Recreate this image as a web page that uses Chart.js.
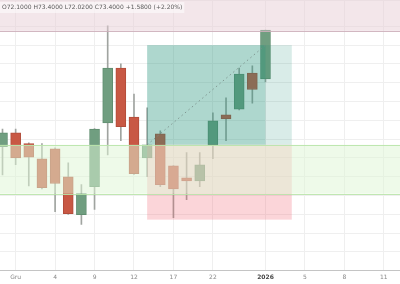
<!DOCTYPE html>
<html>
<head>
<meta charset="utf-8">
<script src="https://cdn.jsdelivr.net/npm/chart.js@4.4.1/dist/chart.umd.min.js"></script>
<style>
  html, body { margin: 0; padding: 0; background: #fff; }
  #wrap { width: 400px; height: 284px; position: relative; }
</style>
</head>
<body>
<div id="wrap"><canvas id="chartCandle"></canvas></div>
<script>
// bar slots (one per session) and OHLC values
const slots  = [0, 1, 2, 3, 4, 5, 6, 7, 8, 9, 10, 11, 12, 13, 14, 15, 16, 17, 18, 19, 20];
const opens  = [70.30, 70.67, 70.38, 69.98, 70.24, 69.50, 68.49, 69.24, 70.93, 72.39, 71.09, 70.00, 70.64, 69.79, 69.47, 69.39, 70.35, 71.15, 71.30, 72.26, 72.10];
const highs  = [70.77, 70.77, 70.40, 70.38, 70.27, 69.87, 69.29, 70.78, 73.51, 72.50, 71.70, 71.33, 70.72, 69.80, 70.14, 70.14, 71.20, 71.60, 72.39, 72.45, 73.40];
const lows   = [69.55, 69.82, 69.26, 69.18, 68.57, 68.50, 68.23, 68.63, 70.08, 70.46, 69.56, 69.50, 69.24, 68.41, 68.89, 69.24, 69.98, 70.46, 71.28, 71.46, 72.02];
const closes = [70.67, 70.00, 70.02, 69.21, 69.32, 68.52, 69.05, 70.77, 72.39, 70.83, 69.58, 70.35, 69.29, 69.18, 69.39, 69.82, 70.99, 71.04, 72.23, 71.82, 73.40];

// time axis
const tickSlots  = [1, 4, 7, 10, 13, 16, 20, 23, 26, 29];
const tickLabels = ['Gru', '4', '9', '12', '17', '22', '2026', '5', '8', '11'];

// drawings
const resistanceZone = [73.38, 74.2];
const supportZone    = [69.05, 70.35];
const longLevels     = [68.36, 70.35, 73.0];   // stop, entry, target
const longSlots      = [11, 20, 22];           // start, hit, end

const up = slots.map(i => closes[i] >= opens[i]);
const bodyFill = up.map(u => u ? 'rgb(112,158,128)' : 'rgb(200,88,68)');
const bodyLine = up.map(u => u ? 'rgb(96,142,112)' : 'rgb(178,76,58)');

const last = slots.length - 1;
const chg = closes[last] - closes[last - 1];
const ohlcText = 'O' + opens[last].toFixed(4) + ' H' + highs[last].toFixed(4) +
    ' L' + lows[last].toFixed(4) + ' C' + closes[last].toFixed(4) +
    ' +' + chg.toFixed(4) + ' (+' + (chg / closes[last - 1] * 100).toFixed(2) + '%)';

// overlays drawn on top of the candles, like the chart tool does
const drawings = {
    id: 'drawings',
    afterDatasetsDraw(chart) {
        const {ctx, chartArea: a, scales: {x, y}} = chart;
        ctx.save();
        ctx.beginPath();
        ctx.rect(a.left, a.top, a.right - a.left, a.bottom - a.top);
        ctx.clip();

        const xs = longSlots.map(v => x.getPixelForValue(v));
        const yStop = y.getPixelForValue(longLevels[0]);
        const yEntry = y.getPixelForValue(longLevels[1]);
        const yTarget = y.getPixelForValue(longLevels[2]);

        // stop zone
        ctx.fillStyle = 'rgba(238,80,98,0.24)';
        ctx.fillRect(xs[0], yEntry, xs[2] - xs[0], yStop - yEntry);
        // profit zone
        ctx.fillStyle = 'rgba(30,145,120,0.36)';
        ctx.fillRect(xs[0], yTarget, xs[1] - xs[0], yEntry - yTarget);
        ctx.fillStyle = 'rgba(30,145,120,0.17)';
        ctx.fillRect(xs[1], yTarget, xs[2] - xs[1], yEntry - yTarget);

        // support band
        const s0 = y.getPixelForValue(supportZone[1]);
        const s1 = y.getPixelForValue(supportZone[0]);
        ctx.fillStyle = 'rgba(222,245,212,0.52)';
        ctx.fillRect(a.left, s0, a.right - a.left, s1 - s0);
        ctx.strokeStyle = 'rgba(185,228,170,0.9)';
        ctx.lineWidth = 1;
        ctx.beginPath();
        ctx.moveTo(a.left, Math.round(s0) + 0.5); ctx.lineTo(a.right, Math.round(s0) + 0.5);
        ctx.moveTo(a.left, Math.round(s1) + 0.5); ctx.lineTo(a.right, Math.round(s1) + 0.5);
        ctx.stroke();

        // resistance band
        const r0 = y.getPixelForValue(resistanceZone[1]);
        const r1 = y.getPixelForValue(resistanceZone[0]);
        ctx.fillStyle = 'rgba(232,205,214,0.5)';
        ctx.fillRect(a.left, r0, a.right - a.left, r1 - r0);
        ctx.strokeStyle = 'rgba(205,175,186,0.9)';
        ctx.beginPath();
        ctx.moveTo(a.left, Math.round(r1) + 0.5); ctx.lineTo(a.right, Math.round(r1) + 0.5);
        ctx.stroke();

        // dotted entry -> target line
        ctx.strokeStyle = 'rgba(120,140,135,0.85)';
        ctx.setLineDash([1.5, 3]);
        ctx.beginPath();
        ctx.moveTo(xs[0], yEntry);
        ctx.lineTo(xs[1], yTarget);
        ctx.stroke();
        ctx.setLineDash([]);

        // OHLC legend
        ctx.font = '6px "DejaVu Sans"';
        const w = ctx.measureText(ohlcText).width;
        ctx.fillStyle = 'rgba(255,255,255,0.55)';
        ctx.fillRect(a.left, a.top + 2, w + 4, 11);
        ctx.fillStyle = '#5a5a5a';
        ctx.textBaseline = 'middle';
        ctx.fillText(ohlcText, a.left + 2, a.top + 7.5);
        ctx.restore();
    }
};

const cvs = document.getElementById('chartCandle');
const chartCandle = new Chart(cvs, {
    type: 'bar',
    data: {
        datasets: [{
            label: 'wick',
            data: slots.map(i => ({x: i, y: [lows[i], highs[i]]})),
            backgroundColor: 'rgb(160,164,160)',
            barThickness: 1,
            grouped: false,
            order: 2
        }, {
            label: 'body',
            data: slots.map(i => ({x: i, y: [opens[i], closes[i]]})),
            backgroundColor: bodyFill,
            borderColor: bodyLine,
            borderWidth: 1,
            borderSkipped: false,
            barThickness: 10,
            grouped: false,
            order: 1
        }]
    },
    plugins: [drawings],
    options: {
        responsive: true,
        maintainAspectRatio: false,
        animation: false,
        layout: { padding: 0 },
        scales: {
            x: {
                type: 'linear',
                min: -0.19,
                max: 30.23,
                offset: false,
                afterBuildTicks: s => { s.ticks = tickSlots.map(v => ({value: v})); },
                grid: { color: '#efefef', offset: false, drawTicks: false },
                border: { color: '#c4c4c4' },
                ticks: {
                    padding: 3,
                    maxRotation: 0,
                    autoSkip: false,
                    color: c => tickLabels[tickSlots.indexOf(c.tick.value)] === '2026' ? '#444' : '#888',
                    font: c => ({
                        family: 'DejaVu Sans',
                        size: 6,
                        weight: c.tick && tickLabels[tickSlots.indexOf(c.tick.value)] === '2026' ? 'bold' : 'normal'
                    }),
                    callback: v => tickLabels[tickSlots.indexOf(v)]
                }
            },
            y: {
                min: 67.0,
                max: 74.2,
                ticks: { display: false, stepSize: 0.5 },
                grid: { color: '#efefef', drawTicks: false },
                border: { display: false }
            }
        },
        plugins: {
            legend: { display: false },
            tooltip: { enabled: false }
        }
    }
});
</script>
</body>
</html>
